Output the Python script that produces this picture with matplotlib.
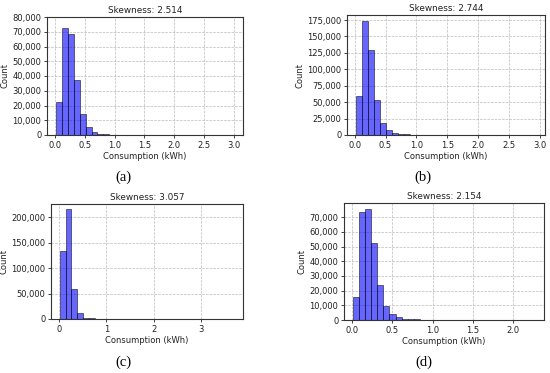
import matplotlib
matplotlib.use("Agg")
import matplotlib.pyplot as plt
from matplotlib.ticker import MultipleLocator, StrMethodFormatter
import numpy as np

# ---- data ----
skew_a = 2.514
start_a, width_a = 0.016, 0.0995
counts_a = [22700, 72700, 68400, 37300, 14300, 5200, 2000, 1000, 500, 300,
            200, 120, 80, 50, 30, 20, 15, 10, 8, 6, 5, 4, 3, 2, 2, 1, 1, 1, 0, 1]

skew_b = 2.744
start_b, width_b = 0.022, 0.0971
counts_b = [59000, 174000, 130000, 53000, 18000, 7000, 2500, 1200, 800, 600,
            400, 250, 150, 100, 60, 40, 30, 20, 15, 10, 8, 6, 5, 4, 3, 2, 2, 1, 1, 1]

skew_c = 3.057
start_c, width_c = 0.009, 0.1234
counts_c = [133000, 215000, 58800, 11800, 2800, 1200, 700, 500, 400, 300,
            200, 100, 60, 40, 30, 20, 15, 10, 8, 6, 5, 4, 3, 2, 2, 1, 1, 1, 1, 1]

skew_d = 2.154
start_d, width_d = 0.013, 0.0751
counts_d = [15600, 73400, 75900, 52300, 24000, 9700, 4100, 1800, 1000, 600,
            400, 300, 200, 150, 100, 60, 40, 30, 20, 10, 8, 6, 5, 4, 3, 2, 2, 1, 1, 1]

panel_labels = ["(a)", "(b)", "(c)", "(d)"]

fig = plt.figure(figsize=(5.5, 3.73), dpi=100)

rects = [
    [47/550, 1-135/373, 196/550, 118/373],
    [347/550, 1-135/373, 198/550, 120/373],
    [51/550, 1-319/373, 192/550, 115/373],
    [344/550, 1-320/373, 200/550, 117/373],
]
panels = [
    (skew_a, start_a, width_a, counts_a, 0.5, 10000, 80000),
    (skew_b, start_b, width_b, counts_b, 0.5, 25000, None),
    (skew_c, start_c, width_c, counts_c, 1.0, 50000, None),
    (skew_d, start_d, width_d, counts_d, 0.5, 10000, None),
]
label_pos = [(123, 177), (423, 177), (123, 362), (424, 362)]

fs = 6.0
for i, (rect, (sk, st, w, cnt, xstep, ystep, ytop)) in enumerate(zip(rects, panels)):
    ax = fig.add_axes(rect)
    cnt = np.array(cnt, dtype=float)
    edges = st + w * np.arange(len(cnt))
    ax.bar(edges, cnt, width=w, align='edge', color='blue', alpha=0.6,
           edgecolor='black', linewidth=0.6, zorder=3)
    if ytop is not None:
        ax.set_ylim(0, ytop)
    ax.xaxis.set_major_locator(MultipleLocator(xstep))
    ax.yaxis.set_major_locator(MultipleLocator(ystep))
    ax.yaxis.set_major_formatter(StrMethodFormatter('{x:,.0f}'))
    if xstep < 1:
        ax.xaxis.set_major_formatter(StrMethodFormatter('{x:.1f}'))
    else:
        ax.xaxis.set_major_formatter(StrMethodFormatter('{x:.0f}'))
    ax.grid(True, linestyle='--', color='#aaaaaa', linewidth=0.5, alpha=0.8, zorder=0)
    ax.set_axisbelow(True)
    ax.tick_params(labelsize=fs, length=2.5, width=0.6, pad=1.5, colors='#222222')
    for s in ax.spines.values():
        s.set_linewidth(0.8)
        s.set_color('#333333')
    ax.set_title(f"Skewness: {sk:.3f}", fontsize=6.4, pad=3, color='#222222')
    ax.set_xlabel("Consumption (kWh)", fontsize=fs, labelpad=2, color='#222222')
    ax.set_ylabel("Count", fontsize=fs, labelpad=2, color='#222222')
    lx, ly = label_pos[i]
    fig.text(lx/550, 1-ly/373, panel_labels[i], ha='center', va='center',
             fontsize=10.5, family='Liberation Serif')

fig.savefig("out.png", dpi=100)
